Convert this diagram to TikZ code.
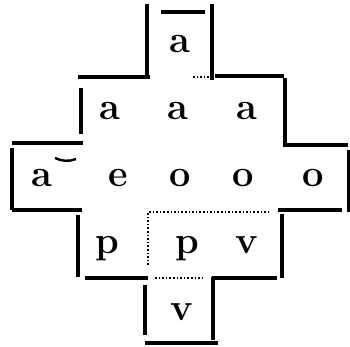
\documentclass[tikz,border=0pt]{standalone}
\usepackage{tikz}
\usetikzlibrary{positioning}
\tikzset{
  wall/.style={line width=4.8pt},
  seam/.style={line width=1.6pt, dotted},
  letter/.style={anchor=base, inner sep=0pt, font=\fontsize{38}{40}\selectfont\bfseries}
}
\begin{document}
\begin{tikzpicture}[x=1pt,y=-1pt]
    \useasboundingbox (0,0) rectangle (350,347);
    % oberste Zelle
    \draw[wall] (147,4) -- (147,75);
    \draw[wall] (161,12) -- (205,12);
    \draw[wall] (212,4) -- (212,80);
    % zweite Reihe
    \draw[wall] (78,77) -- (150,77);
    \draw[seam] (193,77) -- (212,77);
    \draw[wall] (215,76) -- (284,76);
    \draw[wall] (81,88) -- (81,134);
    \draw[wall] (285,78) -- (285,147);
    % mittlere Reihe
    \draw[wall] (12,143) -- (83,143);
    \draw[wall] (285,145) -- (348,145);
    \draw[wall] (12,148) -- (12,210);
    \draw[line width=3pt] (348,150) -- (348,212);
    \draw[wall] (12,210) -- (82,210);
    \draw[wall] (278,210) -- (342,210);
    % vierte Reihe
    \draw[wall] (78,215) -- (78,277);
    \draw[wall] (282,214) -- (282,278);
    \draw[seam] (148,265) -- (148,212) -- (270,212);
    \draw[wall] (85,278) -- (148,278);
    \draw[seam] (155,278) -- (205,278);
    \draw[wall] (212,278) -- (277,278);
    % unterste Zelle
    \draw[wall] (145,285) -- (145,335);
    \draw[wall] (213,277) -- (213,340);
    \draw[wall] (145,343) -- (218,343);
    % Buchstaben
    \node[letter] (r0c2) at (180,53) {a};
    \foreach \x/\t [count=\i] in {110/a,178/a,247/a}
      \node[letter] (r1c\i) at (\x,120) {\t};
    \foreach \x/\t [count=\i] in {42/a,118/e,180/o,243/o,313/o}
      \node[letter] (r2c\i) at (\x,187) {\t};
    \foreach \x/\t [count=\i] in {107/p,187/p,247/v}
      \node[letter] (r3c\i) at (\x,253) {\t};
    \node[letter] (r4c2) at (182,320) {v};
    \draw[line width=2.4pt] (55,158) .. controls (61,161) and (69,162) .. (76,159);
\end{tikzpicture}
\end{document}
